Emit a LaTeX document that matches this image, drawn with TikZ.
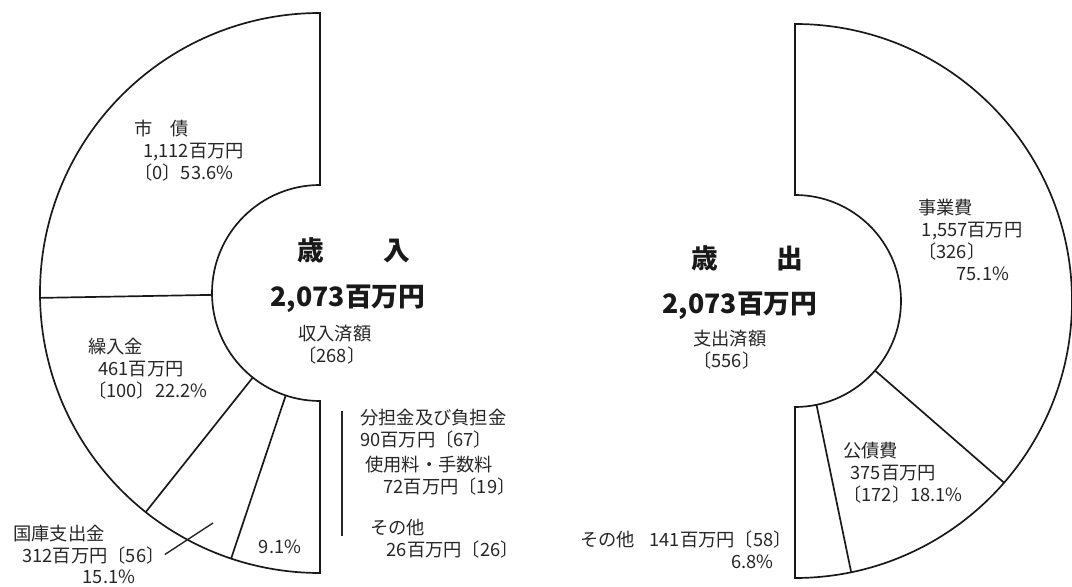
\documentclass[tikz,border=0pt]{standalone}
\usepackage{fontspec}
\newfontfamily\jpfont{Noto Sans CJK JP}
\usetikzlibrary{positioning}

\begin{document}
\begin{tikzpicture}[x=0.025cm, y=0.025cm,
        ring/.style={line width=1.2pt, black!90},
        lbl/.style={font=\jpfont\fontsize{13}{15.5}\selectfont, align=left, anchor=west, inner sep=0pt, text=black!85},
        ttl/.style={font=\jpfont\bfseries\fontsize{19}{22}\selectfont, inner sep=0pt, text=black!90}]
        \useasboundingbox (0,0) rectangle (1072,586);
        \begin{scope}[shift={(320,293)}]
            \draw[ring] (90:108) -- (90:280) arc[start angle=90, end angle=270, radius=280]
                -- (270:108) arc[start angle=270, end angle=90, radius=108] -- cycle;
            \foreach \a in {181, 231.5, 251.5}
                \draw[ring] (\a:108) -- (\a:280);
        \end{scope}
        \begin{scope}[shift={(795,285)}]
            \draw[ring] (90:106) -- (90:277) arc[start angle=90, end angle=-90, radius=277]
                -- (-90:106) arc[start angle=-90, end angle=90, radius=106] -- cycle;
            \foreach \a in {-41, -78.3}
                \draw[ring] (\a:106) -- (\a:277);
        \end{scope}

        \node[ttl] (inTitle) at (354,336) {歳\hspace{2.2em}入};
        \node[ttl] (inTotal) at (348,287) {2,073百万円};
        \node[lbl] (inNote) at (298,241) {収入済額\\〔268〕};
        \node[lbl] (shisai) at (134,435.5) {市　債\\\hspace*{.5em}1,112百万円\\〔0〕53.6\%};
        \node[lbl] (kuriire) at (88,217.5) {繰入金\\\hspace*{.55em}461百万円\\〔100〕22.2\%};
        \node[lbl] (kokko) at (13,31.5) {国庫支出金\\\hspace*{.5em}312百万円〔56〕\\\hspace*{3.8em}15.1\%};
        \node[lbl, anchor=center] (pctEtc) at (280,39) {9.1\%};
        \node[lbl] (buntan) at (360,157) {分担金及び負担金\\90百万円〔67〕};
        \node[lbl] (shiyo) at (365,110.5) {使用料・手数料\\\hspace*{1em}72百万円〔19〕};
        \node[lbl] (sonotaIn) at (370,47) {その他\\\hspace*{.9em}26百万円〔26〕};
        \coordinate (kokkoTip) at (213,63);
        \coordinate (brTop) at (342,175);
        \coordinate (brBot) at (342,50);
        \draw[line width=1pt, black!85] (kokko.east) -- (kokkoTip);
        \draw[line width=1pt, black!85] (brTop) -- (brBot);

        \node[ttl] (outTitle) at (747.5,328) {歳\hspace{2.2em}出};
        \node[ttl] (outTotal) at (740,280) {2,073百万円};
        \node[lbl] (outNote) at (693,236.5) {支出済額\\〔556〕};
        \node[lbl] (jigyo) at (918,346) {事業費\\\hspace*{.2em}1,557百万円\\〔326〕\\\hspace*{2.1em}75.1\%};
        \node[lbl] (kosai) at (843,113.5) {公債費\\\hspace*{.4em}375百万円\\〔172〕18.1\%};
        \node[lbl, align=right, anchor=east] (sonotaOut) at (792,36.5) {その他\hspace{.8em}141百万円〔58〕\\6.8\%\hspace*{1em}};
    \end{tikzpicture}
\end{document}
